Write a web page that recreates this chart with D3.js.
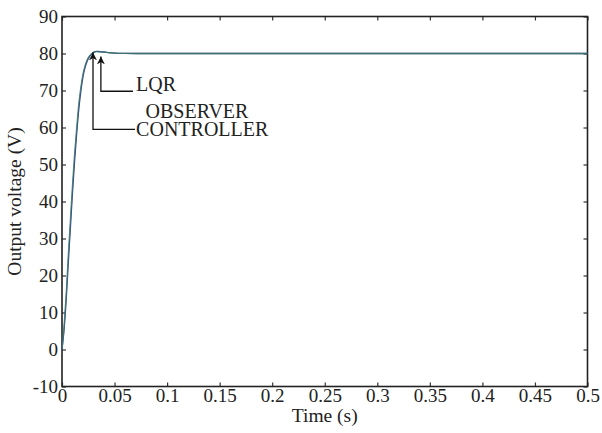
<!DOCTYPE html>
<html>
<head>
<meta charset="utf-8">
<script src="https://cdn.jsdelivr.net/npm/d3@7"></script>
<style>
  body { margin: 0; background: #fff; }
  text { font-family: 'Liberation Serif', 'DejaVu Serif', serif; fill: #222; }
</style>
</head>
<body>
<div id="chart"></div>
<script>
// time (s)
const time = [0, 0.002, 0.004, 0.006, 0.008, 0.010, 0.012, 0.014, 0.016, 0.018, 0.020,
  0.022, 0.024, 0.026, 0.028, 0.030, 0.033, 0.036, 0.040, 0.045, 0.05, 0.06, 0.08, 0.1,
  0.2, 0.3, 0.4, 0.5]
// LQR output voltage (blue)
const lqr = [0, 5.5, 13.5, 23.5, 33, 42.5, 51, 58.5, 65, 70, 73.8,
  76.3, 78, 79.1, 79.8, 80.3, 80.6, 80.5, 80.4, 80.25, 80.12, 80.03, 80, 80,
  80, 80, 80, 80]
// observer controller output voltage (green)
const observer = [0, 6.5, 15, 25.5, 35, 44.5, 53, 60, 66.5, 71, 74.5,
  76.8, 78.3, 79.3, 79.9, 80.3, 80.5, 80.45, 80.35, 80.2, 80.1, 80.02, 80, 80,
  80, 80, 80, 80]

const xTicks = [0, 0.05, 0.1, 0.15, 0.2, 0.25, 0.3, 0.35, 0.4, 0.45, 0.5]
const yTicks = [-10, 0, 10, 20, 30, 40, 50, 60, 70, 80, 90]

const margin = { top: 16.5, left: 62, right: 14.5, bottom: 46.5 }
const width = 602 - margin.left - margin.right
const height = 433 - margin.top - margin.bottom

const svg = d3
  .select('#chart')
  .append('svg')
  .attr('width', 602)
  .attr('height', 433)
  .append('g')
  .attr('transform', 'translate(' + margin.left + ',' + margin.top + ')')

const x = d3.scaleLinear().domain([0, 0.5]).range([0, width])
const y = d3.scaleLinear().domain([-10, 90]).range([height, 0])

const fmt = d => String(d)

// axes with inward ticks
const tickLen = 4
svg.append('g')
  .attr('class', 'x-axis')
  .attr('transform', 'translate(0,' + height + ')')
  .call(d3.axisBottom(x).tickValues(xTicks).tickFormat(fmt).tickSizeInner(-tickLen).tickSizeOuter(0).tickPadding(2))
svg.append('g')
  .attr('class', 'x-top')
  .call(d3.axisTop(x).tickValues(xTicks).tickFormat('').tickSizeInner(-tickLen).tickSizeOuter(0))
svg.append('g')
  .attr('class', 'y-axis')
  .call(d3.axisLeft(y).tickValues(yTicks).tickFormat(fmt).tickSizeInner(-tickLen).tickSizeOuter(0).tickPadding(4))
svg.append('g')
  .attr('class', 'y-right')
  .attr('transform', 'translate(' + width + ',0)')
  .call(d3.axisRight(y).tickValues(yTicks).tickFormat('').tickSizeInner(-tickLen).tickSizeOuter(0))

svg.selectAll('.domain').remove()
svg.selectAll('.tick line').attr('stroke', '#333').attr('stroke-width', 1.2)
svg.selectAll('.x-axis text, .y-axis text')
  .style('font-size', '19px')
  .style('font-family', "'Liberation Serif', serif")
  .attr('fill', '#222')

// frame
svg.append('rect')
  .attr('x', 0).attr('y', 0)
  .attr('width', width).attr('height', height)
  .attr('fill', 'none')
  .attr('stroke', '#222')
  .attr('stroke-width', 1.6)

// lines
const line = series => d3.line()
  .x((d, i) => x(time[i]))
  .y(d => y(d))
  .curve(d3.curveMonotoneX)(series)

svg.append('path')
  .attr('d', line(lqr))
  .attr('fill', 'none')
  .attr('stroke', '#3535b0')
  .attr('stroke-width', 1.3)
svg.append('path')
  .attr('d', line(observer))
  .attr('fill', 'none')
  .attr('stroke', '#3d7f5c')
  .attr('stroke-width', 1.3)
  .attr('opacity', 0.85)

// annotations
const notes = [
  { label: 'CONTROLLER', tipT: 0.0295, tipV: 80.3, elbowV: 59.5, endT: 0.0695, textT: 0.0705, textV: 57.8 },
  { label: 'LQR', tipT: 0.037, tipV: 79.2, elbowV: 69.8, endT: 0.0675, textT: 0.0705, textV: 69.8 }
]

const defs = svg.append('defs')
defs.append('marker')
  .attr('id', 'arrow')
  .attr('viewBox', '0 0 10 10')
  .attr('refX', 10).attr('refY', 5)
  .attr('markerWidth', 8).attr('markerHeight', 8)
  .attr('markerUnits', 'userSpaceOnUse')
  .attr('orient', 'auto')
  .append('path')
  .attr('d', 'M0,0 L10,5 L0,10 L3,5 Z')
  .attr('fill', '#111')

notes.forEach(n => {
  svg.append('path')
    .attr('d', 'M' + x(n.endT) + ',' + y(n.elbowV) +
      ' H' + x(n.tipT) + ' V' + y(n.tipV))
    .attr('fill', 'none')
    .attr('stroke', '#111')
    .attr('stroke-width', 1.3)
    .attr('marker-end', 'url(#arrow)')
  svg.append('text')
    .attr('x', x(n.textT))
    .attr('y', y(n.textV))
    .text(n.label)
    .style('font-size', '20px')
})

svg.append('text')
  .attr('x', x(0.0795))
  .attr('y', y(62.5))
  .text('OBSERVER')
  .style('font-size', '20px')

// axis titles
svg.append('text')
  .attr('x', x(0.25))
  .attr('y', height + 35)
  .attr('text-anchor', 'middle')
  .text('Time (s)')
  .style('font-size', '19.5px')

svg.append('text')
  .attr('transform', 'translate(' + (-41) + ',' + y(40) + ') rotate(-90)')
  .attr('text-anchor', 'middle')
  .text('Output voltage (V)')
  .style('font-size', '19.5px')
</script>
</body>
</html>
